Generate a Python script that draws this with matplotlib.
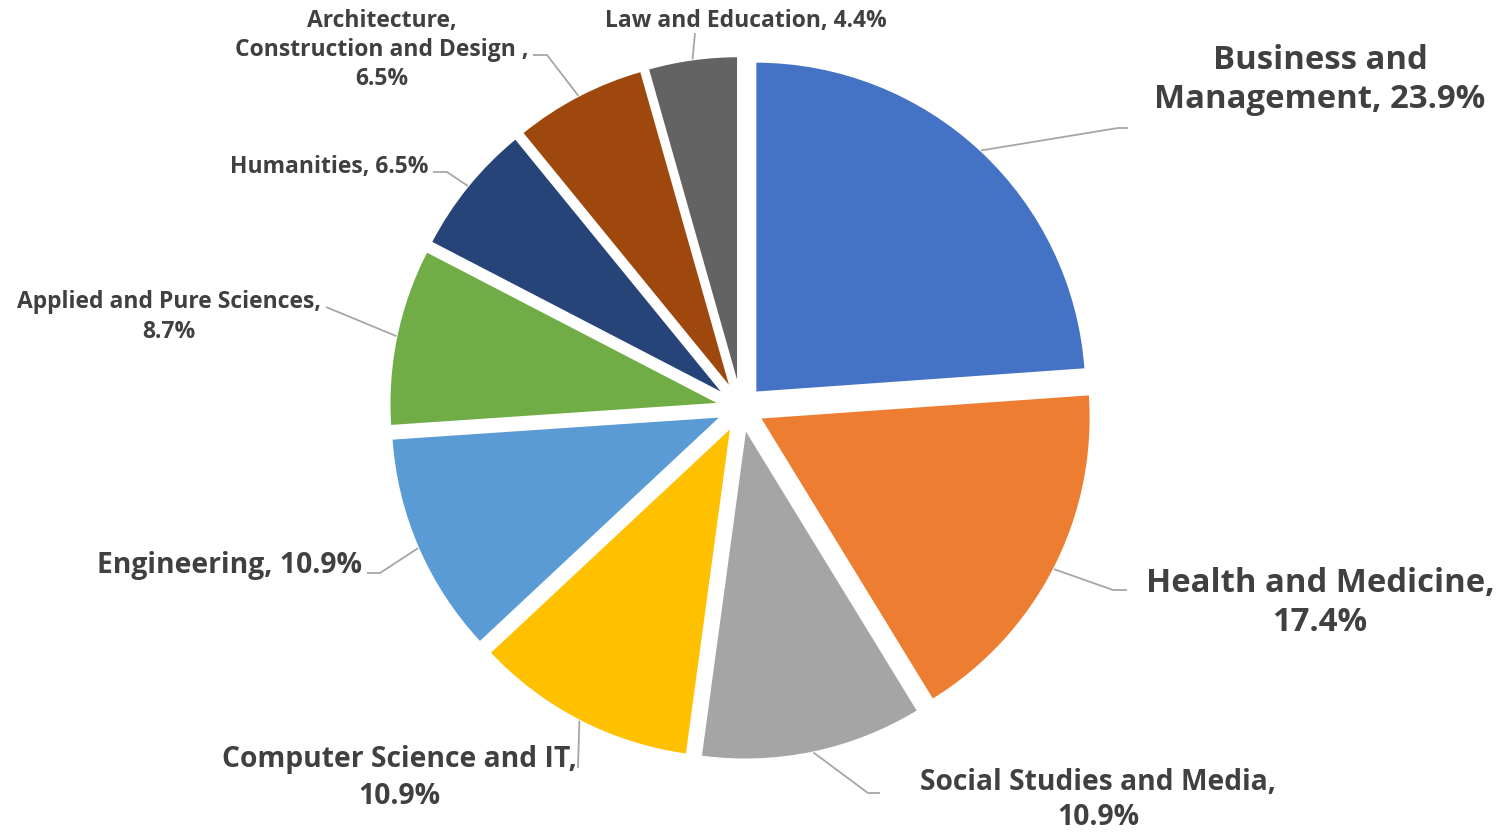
import numpy as np
from matplotlib import pyplot as plt

plt.close('all')

# Share of courses by subject area (%)
subjects = ['Business and\nManagement', 'Health and Medicine,\n', 'Social Studies and Media,\n',
            'Computer Science and IT,\n', 'Engineering', 'Applied and Pure Sciences,\n',
            'Humanities', 'Architecture,\nConstruction and Design ,\n', 'Law and Education']
shares = [23.9, 17.4, 10.9, 10.9, 10.9, 8.7, 6.5, 6.5, 4.4]
colors = ['#4472C4', '#ED7D31', '#A5A5A5', '#FFC000', '#5B9BD5',
          '#70AD47', '#264478', '#9E480E', '#636363']

# label text sizes, line spacing, anchor points (pixels from top-left) and leader knees
label_size = [23.7, 23.7, 20.3, 20.3, 20.3, 16.5, 16.5, 16.5, 16.5]
label_spacing = [1.27, 1.27, 1.28, 1.32, 1.32, 1.3, 1.3, 1.3, 1.3]
label_pos = [(1320, 80), (1320, 603), (1098, 800), (399, 778), (362, 566),
             (169, 317), (428, 167), (382, 50), (746, 21)]
label_ha = ['center', 'center', 'center', 'center', 'right',
            'center', 'right', 'center', 'center']
knees = [[(1118, 128), (1128, 128)], [(1113, 590), (1127, 590)], [(868, 793), (880, 793)],
         [(578, 768)], [(380, 573), (367, 573)], [(326, 307)],
         [(447, 172), (433, 172)], [(547, 55), (533, 55)], [(695, 33)]]

W, H = 1501, 833
fig = plt.figure(figsize=(W / 100, H / 100), dpi=100)
ax = fig.add_axes([0, 0, 1, 1])

cx, cy, radius = 741, H - 408, 331
wedges, _ = ax.pie(shares, colors=colors, startangle=90, counterclock=False,
                   radius=radius, center=(cx, cy), explode=[21] * len(shares),
                   wedgeprops=dict(edgecolor='white', linewidth=1.5))

ax.set_xlim(0, W)
ax.set_ylim(0, H)
ax.set_aspect('equal')
ax.axis('off')

text_color = '#404040'
line_color = '#A6A6A6'

for w, name, val, size, ls, (lx, ly), ha, pts in zip(wedges, subjects, shares, label_size,
                                                     label_spacing, label_pos, label_ha, knees):
    mid = np.deg2rad((w.theta1 + w.theta2) / 2)
    wx, wy = w.center
    start = (wx + w.r * np.cos(mid), wy + w.r * np.sin(mid))
    xs = [start[0]] + [p[0] for p in pts]
    ys = [start[1]] + [H - p[1] for p in pts]
    ax.plot(xs, ys, color=line_color, lw=1.3, solid_capstyle='butt')

    if name.endswith('\n'):
        txt = name + f'{val:.1f}%'
    else:
        txt = name + f', {val:.1f}%'
    ax.text(lx, H - ly, txt, ha=ha, va='center', multialignment='center',
            fontsize=size, fontweight='bold', family='Open Sans', color=text_color,
            linespacing=ls)

fig.savefig('out.png', dpi=100)
